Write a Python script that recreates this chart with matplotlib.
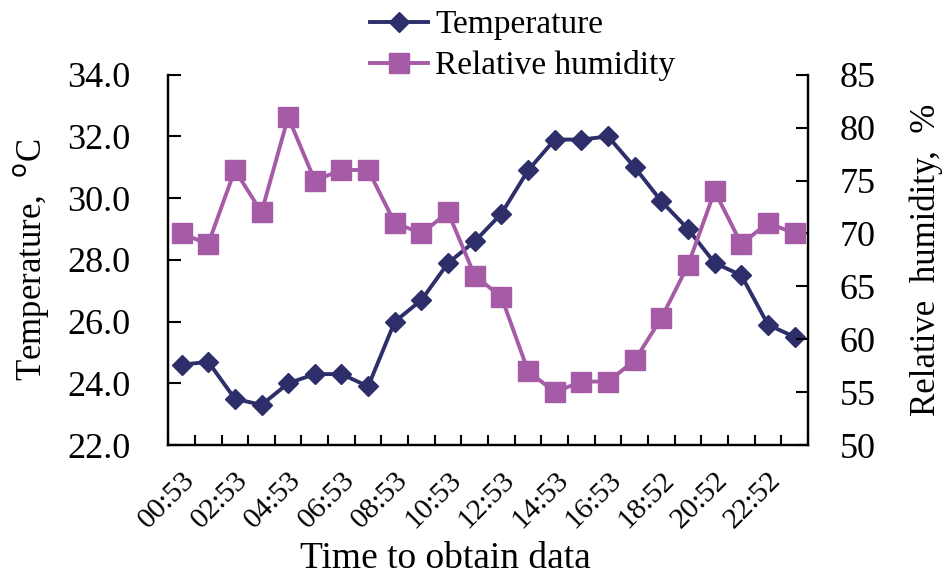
import matplotlib.pyplot as plt
import numpy as np

plt.rcParams['font.family'] = ['Liberation Serif', 'DejaVu Serif']

# hourly readings
times = ['00:53', '01:53', '02:53', '03:53', '04:53', '05:53', '06:53', '07:53',
         '08:53', '09:53', '10:53', '11:53', '12:53', '13:53', '14:53', '15:53',
         '16:53', '17:53', '18:52', '19:52', '20:52', '21:52', '22:52', '23:52']
temperature = [24.6, 24.7, 23.5, 23.3, 24.0, 24.3, 24.3, 23.9, 26.0, 26.7, 27.9, 28.6,
               29.5, 30.9, 31.9, 31.9, 32.0, 31.0, 29.9, 29.0, 27.9, 27.5, 25.9, 25.5]
humidity = [70, 69, 76, 72, 81, 75, 76, 76, 71, 70, 72, 66,
            64, 57, 55, 56, 56, 58, 62, 67, 74, 69, 71, 70]

navy = '#2e2f6a'
purple = '#a55ba5'

fig = plt.figure(figsize=(9.45, 5.75), dpi=100)
ax = fig.add_axes([0.178, 0.226, 0.677, 0.644])
ax2 = ax.twinx()

x = np.arange(len(times))
l1, = ax.plot(x, temperature, color=navy, lw=2.8, marker='D', ms=10.5, label='Temperature')
l2, = ax2.plot(x, humidity, color=purple, lw=2.8, marker='s', ms=14, label='Relative humidity')

ax.set_xlim(-0.5, len(times) - 0.5)
ax.set_ylim(22, 34)
ax.set_yticks(np.arange(22, 34.1, 2))
ax.set_yticklabels([f'{v:.1f}' for v in np.arange(22, 34.1, 2)])
ax2.set_ylim(50, 85)
ax2.set_yticks(np.arange(50, 86, 5))

# ticks at category boundaries, labels every other category
ax.set_xticks(np.arange(-0.5, len(times), 1))
ax.set_xticklabels([])
ax.set_xticks(x[::2], minor=True)
ax.set_xticklabels(times[::2], minor=True, rotation=45, ha='right',
                   rotation_mode='anchor', fontsize=21.5)
ax.tick_params(axis='x', which='minor', length=0, pad=16)
ax.tick_params(axis='x', which='major', direction='in', length=7, width=1.5)
ax.tick_params(axis='y', direction='in', length=9, width=1.5, labelsize=26, pad=27)
ax2.tick_params(axis='y', direction='in', length=9, width=1.5, labelsize=26, pad=23)

for a in (ax, ax2):
    a.spines['top'].set_visible(False)
    for s in ('left', 'right', 'bottom'):
        a.spines[s].set_linewidth(1.6)

ax.set_xlabel('Time to obtain data', fontsize=27)
ax.xaxis.set_label_coords(0.433, -0.26)
ax.set_ylabel('Temperature,  $^{\\rm o}$C', fontsize=25, labelpad=12)
ax2.set_ylabel('Relative  humidity,  %', fontsize=25, labelpad=24)

fig.legend(handles=[l1, l2], loc='upper left', bbox_to_anchor=(370 / 945, 0.983),
           frameon=False, fontsize=24, handlelength=1.75, labelspacing=0.3,
           handletextpad=0.2, borderpad=0, borderaxespad=0)

plt.savefig('out.png', dpi=100)
